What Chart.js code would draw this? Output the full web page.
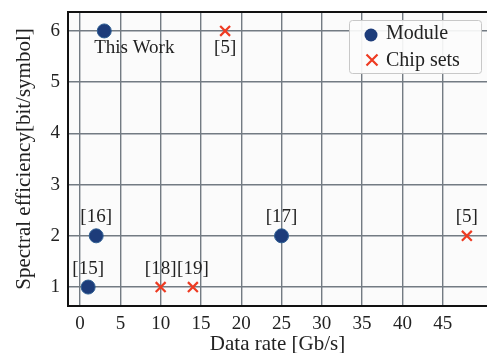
<!DOCTYPE html>
<html>
<head>
<meta charset="utf-8">
<script src="https://cdn.jsdelivr.net/npm/chart.js@4.4.1/dist/chart.umd.min.js"></script>
<style>
  html, body { margin: 0; padding: 0; background: #fff; }
  #wrap { width: 487px; height: 353px; }
</style>
</head>
<body>
<div id="wrap"><canvas id="c" width="487" height="353"></canvas></div>
<script>
// data
const moduleX = [3, 2, 1, 25];
const moduleY = [6, 2, 1, 2];
const moduleLabels = ['This Work', '[16]', '[15]', '[17]'];
const chipX = [18, 10, 14, 48];
const chipY = [6, 1, 1, 2];
const chipLabels = ['[5]', '[18]', '[19]', '[5]'];
const xTicks = [0, 5, 10, 15, 20, 25, 30, 35, 40, 45];
const yTicks = [1, 2, 3, 4, 5, 6];

const BLUE = '#1d3c7a';
const RED = '#ee3b22';
const GRID = '#737b83';
const FONT = "'Liberation Serif', 'DejaVu Serif', serif";

const pts = (xs, ys) => xs.map((x, i) => ({ x, y: ys[i] }));

// labels: below the point for the top row, above for the rest
const pointLabels = {
    id: 'pointLabels',
    afterDatasetsDraw(chart) {
        const { ctx, scales: { x, y } } = chart;
        ctx.save();
        ctx.font = '19px ' + FONT;
        ctx.fillStyle = '#222';
        ctx.textAlign = 'center';
        const put = (xs, ys, labels) => xs.forEach((v, i) => {
            const px = x.getPixelForValue(v), py = y.getPixelForValue(ys[i]);
            if (ys[i] === 6) {
                ctx.textBaseline = 'top';
                const dx = labels[i] === 'This Work' ? 30 : 0;
                ctx.fillText(labels[i], px + dx, py + 8);
            } else {
                ctx.textBaseline = 'bottom';
                ctx.fillText(labels[i], px, py - 9);
            }
        });
        put(moduleX, moduleY, moduleLabels);
        put(chipX, chipY, chipLabels);
        ctx.restore();
    }
};

const frame = {
    id: 'frame',
    beforeDraw(chart) {
        const { ctx, chartArea: a } = chart;
        ctx.save();
        ctx.fillStyle = '#fbfbfb';
        ctx.fillRect(a.left, a.top, a.right - a.left, a.bottom - a.top);
        ctx.restore();
    },
    afterDraw(chart) {
        const { ctx, chartArea: a } = chart;
        ctx.save();
        ctx.strokeStyle = '#111';
        ctx.lineWidth = 2;
        ctx.beginPath();
        ctx.moveTo(a.left, a.bottom);
        ctx.lineTo(a.left, a.top);
        ctx.lineTo(a.right + 2, a.top);
        ctx.stroke();

        // legend box
        const bx = 349, by = 20, bw = 132, bh = 53;
        ctx.fillStyle = 'rgba(252,252,252,0.92)';
        ctx.strokeStyle = '#c8c8c8';
        ctx.lineWidth = 1;
        ctx.beginPath();
        ctx.roundRect(bx + 0.5, by + 0.5, bw, bh, 3);
        ctx.fill();
        ctx.stroke();
        ctx.fillStyle = BLUE;
        ctx.beginPath();
        ctx.arc(371, 35, 6.5, 0, Math.PI * 2);
        ctx.fill();
        ctx.strokeStyle = RED;
        ctx.lineWidth = 2.2;
        ctx.beginPath();
        ctx.moveTo(366.5, 54.5); ctx.lineTo(377.5, 65.5);
        ctx.moveTo(377.5, 54.5); ctx.lineTo(366.5, 65.5);
        ctx.stroke();
        ctx.fillStyle = '#222';
        ctx.font = '20px ' + FONT;
        ctx.textBaseline = 'middle';
        ctx.fillText('Module', 386, 34);
        ctx.fillText('Chip sets', 386, 61);
        ctx.restore();
    }
};

new Chart(document.getElementById('c'), {
    type: 'scatter',
    data: {
        datasets: [
            { label: 'Module', data: pts(moduleX, moduleY), backgroundColor: BLUE, borderColor: '#2f5f93', borderWidth: 1, pointRadius: 7, pointHoverRadius: 7 },
            { label: 'Chip sets', data: pts(chipX, chipY), pointStyle: 'crossRot', borderColor: RED, borderWidth: 2.2, pointRadius: 7, pointHoverRadius: 7 }
        ]
    },
    options: {
        responsive: false, animation: false,
        layout: { autoPadding: false, padding: { top: 12, right: 0, left: 0, bottom: 0 } },
        plugins: { legend: { display: false }, tooltip: { enabled: false } },
        scales: {
            x: {
                type: 'linear', min: -1.5, max: 50.5,
                afterBuildTicks: s => { s.ticks = xTicks.map(v => ({ value: v })); },
                afterFit: s => { s.height = 47; s.paddingLeft = 0; s.paddingRight = 0; },
                ticks: { color: '#222', font: { family: FONT, size: 19 }, padding: 7 },
                grid: { color: GRID, lineWidth: 1.4, drawTicks: false },
                border: { color: '#111', width: 2 },
                title: { display: true, text: 'Data rate [Gb/s]', color: '#222', font: { family: FONT, size: 21 }, padding: { top: 0, bottom: -4 } }
            },
            y: {
                type: 'linear', min: 0.63, max: 6.37,
                afterBuildTicks: s => { s.ticks = yTicks.map(v => ({ value: v })); },
                afterFit: s => { s.width = 68; s.paddingTop = 0; s.paddingBottom = 0; },
                ticks: { color: '#222', font: { family: FONT, size: 19 }, padding: 8 },
                grid: { color: GRID, lineWidth: 1.4, drawTicks: false },
                border: { color: '#111', width: 2 },
                title: { display: true, text: 'Spectral efficiency[bit/symbol]', color: '#222', font: { family: FONT, size: 21 }, padding: { top: 12, bottom: 0 } }
            }
        }
    },
    plugins: [frame, pointLabels]
});
</script>
</body>
</html>
